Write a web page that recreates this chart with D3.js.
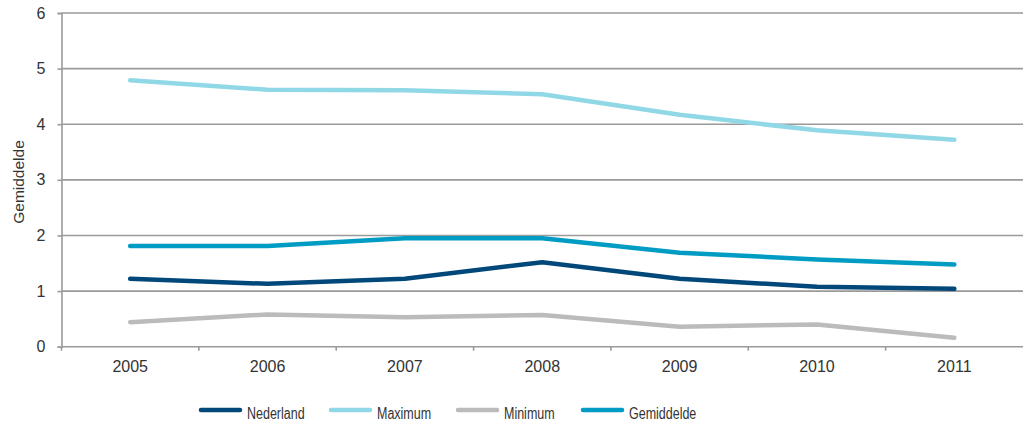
<!DOCTYPE html>
<html>
<head>
<meta charset="utf-8">
<script src="https://cdn.jsdelivr.net/npm/d3@7"></script>
<style>
  html, body { margin: 0; padding: 0; background: #fff; }
  svg { display: block; }
</style>
</head>
<body>
<svg id="chart" width="1023" height="425"></svg>
<script>
const categories = ["2005", "2006", "2007", "2008", "2009", "2010", "2011"];
const nederland  = [1.22, 1.13, 1.22, 1.52, 1.22, 1.08, 1.04];
const maximum    = [4.79, 4.62, 4.61, 4.54, 4.17, 3.89, 3.72];
const minimum    = [0.44, 0.58, 0.53, 0.57, 0.36, 0.40, 0.16];
const gemiddelde = [1.81, 1.81, 1.95, 1.95, 1.69, 1.57, 1.48];
const yTicks = [0, 1, 2, 3, 4, 5, 6];
const seriesNames = ["Nederland", "Maximum", "Minimum", "Gemiddelde"];
const seriesValues = [nederland, maximum, minimum, gemiddelde];
const seriesColors = ["#00477a", "#91d8e7", "#bbbbbb", "#009cc4"];
const yTitle = "Gemiddelde";

(function () {
const svg = d3.select("#chart");
const mLeft = 61.5, mRight = 1023, mTop = 13, mBottom = 346.7;
const gridColor = "#9a9a9a";
const textColor = "#333333";

const x = d3.scaleBand().domain(categories).range([mLeft, mRight]);
const y = d3.scaleLinear().domain([0, 6]).range([mBottom, mTop]);

// gridlines
svg.append("g").selectAll("line").data(yTicks).join("line")
  .attr("x1", mLeft).attr("x2", mRight)
  .attr("y1", d => y(d)).attr("y2", d => y(d))
  .attr("stroke", gridColor).attr("stroke-width", 1.6);

// y axis
const yAxis = svg.append("g").attr("transform", `translate(${mLeft},0)`)
  .call(d3.axisLeft(y).tickValues(yTicks).tickSize(4).tickPadding(12).tickFormat(d3.format("d")));
yAxis.select(".domain").attr("stroke", gridColor).attr("stroke-width", 1.6);
yAxis.selectAll(".tick line").attr("stroke", gridColor).attr("stroke-width", 1.6);
yAxis.selectAll("text").attr("fill", textColor)
  .style("font-family", "'Liberation Sans', Arial, sans-serif").style("font-size", "16px");

// x axis
const xAxis = svg.append("g").attr("transform", `translate(0,${mBottom})`)
  .call(d3.axisBottom(x).tickSize(0).tickPadding(14));
xAxis.select(".domain").remove();
xAxis.selectAll("text").attr("fill", textColor)
  .style("font-family", "'Liberation Sans', Arial, sans-serif").style("font-size", "16px");
// category separator ticks
const bounds = categories.map(c => x(c));
svg.append("g").selectAll("line").data(bounds).join("line")
  .attr("x1", d => d).attr("x2", d => d)
  .attr("y1", mBottom).attr("y2", mBottom + 4)
  .attr("stroke", gridColor).attr("stroke-width", 1.6);

// y title
svg.append("text")
  .attr("transform", `translate(24,182) rotate(-90)`)
  .attr("text-anchor", "middle")
  .attr("fill", textColor)
  .style("font-family", "'Liberation Sans', Arial, sans-serif")
  .style("font-size", "15.5px")
  .text(yTitle);

// lines
const line = d3.line()
  .x((d, i) => x(categories[i]) + x.bandwidth() / 2)
  .y(d => y(d));

const drawOrder = [1, 2, 3, 0];
drawOrder.forEach(k => {
  svg.append("path")
    .datum(seriesValues[k])
    .attr("d", line)
    .attr("fill", "none")
    .attr("stroke", seriesColors[k])
    .attr("stroke-width", 4.5)
    .attr("stroke-linejoin", "round")
    .attr("stroke-linecap", "round");
});

// legend
const legendX = [201, 331, 458, 583];
const lg = svg.append("g");
seriesNames.forEach((name, i) => {
  lg.append("line")
    .attr("x1", legendX[i]).attr("x2", legendX[i] + 39)
    .attr("y1", 410).attr("y2", 410)
    .attr("stroke", seriesColors[i]).attr("stroke-width", 4.5)
    .attr("stroke-linecap", "round");
  const t = lg.append("text")
    .attr("x", legendX[i] + 46).attr("y", 419)
    .attr("fill", textColor)
    .style("font-family", "'Liberation Sans', Arial, sans-serif")
    .style("font-size", "16px")
    .text(name);
  const w = t.node().getComputedTextLength();
  t.attr("textLength", w * 0.78).attr("lengthAdjust", "spacingAndGlyphs");
});
})();
</script>
</body>
</html>
